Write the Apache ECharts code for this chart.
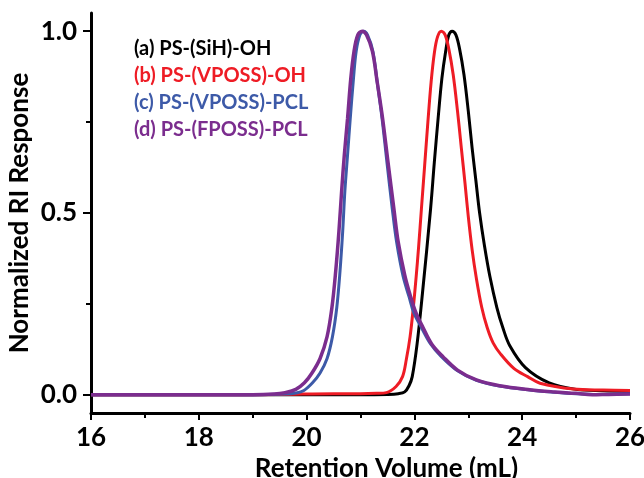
<!DOCTYPE html>
<html>
<head>
<meta charset="utf-8">
<script src="https://cdn.jsdelivr.net/npm/echarts@6/dist/echarts.min.js"></script>
<style>
  html,body{margin:0;padding:0;background:#fff;}
  #chart{width:644px;height:478px;}
</style>
</head>
<body>
<div id="chart"></div>
<script>
// GPC traces: retention volume (mL) vs normalized RI response
const seriesNames=['(a) PS-(SiH)-OH','(b) PS-(VPOSS)-OH','(c) PS-(VPOSS)-PCL','(d) PS-(FPOSS)-PCL'];
const seriesColors=['#000000','#ee1c25','#3d5aa8','#7b2d8e'];

const volA=[16,18,20,21,21.5,21.7,21.82,21.9,21.96,22.05,22.15,22.3,22.37,22.44,22.51,22.58,22.64,22.7,22.77,22.84,22.92,23,23.07,23.14,23.21,23.3,23.4,23.53,23.64,23.77,24.06,24.5,25,25.5,26];
const respA=[0,0,0,0,0.001,0.003,0.008,0.025,0.05,0.14,0.28,0.511,0.64,0.76,0.87,0.945,0.99,1,0.99,0.95,0.88,0.78,0.68,0.59,0.5,0.41,0.326,0.24,0.185,0.135,0.075,0.033,0.015,0.011,0.009];

const volB=[16,18,19.5,20.5,21,21.3,21.48,21.66,21.78,21.85,21.92,21.98,22.03,22.08,22.13,22.19,22.25,22.31,22.37,22.43,22.5,22.57,22.64,22.72,22.8,22.87,22.94,23,23.07,23.15,23.25,23.35,23.46,23.6,23.85,24.1,24.33,24.95,25.5,26];
const respB=[0,0,0.001,0.003,0.003,0.004,0.006,0.023,0.05,0.097,0.16,0.24,0.32,0.41,0.511,0.63,0.75,0.86,0.94,0.985,1,0.99,0.95,0.88,0.78,0.68,0.58,0.49,0.4,0.32,0.24,0.185,0.143,0.112,0.072,0.05,0.032,0.016,0.013,0.012];

const volC=[16,18,19,19.6,19.8,19.95,20.11,20.25,20.38,20.48,20.56,20.62,20.67,20.71,20.76,20.81,20.87,20.92,20.99,21.06,21.13,21.23,21.31,21.4,21.49,21.59,21.67,21.79,21.9,21.99,22.13,22.3,22.5,22.8,23.15,23.58,24.14,24.6,25,25.4,26];
const respC=[0,0,0,0.002,0.005,0.012,0.033,0.06,0.1,0.16,0.24,0.34,0.45,0.56,0.66,0.76,0.87,0.945,0.99,1,0.99,0.945,0.86,0.76,0.64,0.511,0.42,0.326,0.27,0.225,0.185,0.14,0.105,0.066,0.04,0.024,0.013,0.007,0.003,0.001,0.003];

const volD=[16,18,19,19.4,19.6,19.8,19.96,20.1,20.25,20.38,20.47,20.54,20.6,20.65,20.7,20.76,20.82,20.88,20.95,21.03,21.11,21.22,21.31,21.41,21.51,21.62,21.7,21.82,21.93,22.03,22.16,22.32,22.53,22.8,23.15,23.58,24.14,24.6,25,25.3,25.6,26];
const respD=[0,0,0,0.002,0.006,0.015,0.033,0.06,0.1,0.16,0.24,0.34,0.45,0.56,0.66,0.76,0.87,0.945,0.99,1,0.99,0.945,0.86,0.76,0.64,0.511,0.42,0.33,0.27,0.225,0.185,0.14,0.105,0.068,0.041,0.025,0.014,0.008,0.004,0,0.001,0.002];

const xTicks={min:16,max:26,interval:2};
const yLabelValues=[0,0.5,1];
const yMinorValues=[0.25,0.75];

const fontFamily='Lato, "Open Sans", sans-serif';
const zip=(xs,ys)=>xs.map((x,i)=>[x,ys[i]]);
const curves=[zip(volA,respA),zip(volB,respB),zip(volC,respC),zip(volD,respD)];

const myChart=echarts.init(document.getElementById('chart'),null,{renderer:'canvas'});

const option={
  animation:false,
  backgroundColor:'#fff',
  grid:{left:91,right:14,top:13,bottom:65,containLabel:false,outerBoundsMode:'none'},
  legend:{
    orient:'vertical',
    left:124,
    top:34,
    icon:'none',
    itemWidth:0,
    itemHeight:20,
    itemGap:7,
    selectedMode:false,
    textStyle:{fontFamily:fontFamily,fontWeight:'bold',fontSize:20,lineHeight:20},
    data:seriesNames.map((n,i)=>({name:n,textStyle:{color:seriesColors[i]}}))
  },
  xAxis:{
    type:'value',
    min:xTicks.min,
    max:xTicks.max,
    interval:xTicks.interval,
    name:'Retention Volume (mL)',
    nameLocation:'middle',
    nameGap:42,
    nameTextStyle:{fontFamily:fontFamily,fontWeight:'bold',fontSize:26,color:'#000',padding:[0,0,0,52]},
    axisLine:{onZero:false,lineStyle:{color:'#000',width:3}},
    axisTick:{inside:false,length:7,lineStyle:{color:'#000',width:2}},
    minorTick:{show:true,splitNumber:2,length:5,lineStyle:{color:'#000',width:2}},
    axisLabel:{margin:12,fontFamily:fontFamily,fontWeight:'bold',fontSize:26,color:'#000'},
    splitLine:{show:false}
  },
  yAxis:[
    {
      type:'value',
      min:-0.05,
      max:1.05,
      name:'Normalized RI Response',
      nameLocation:'middle',
      nameGap:58,
      nameMoveOverlap:false,
      nameTextStyle:{fontFamily:fontFamily,fontWeight:'bold',fontSize:26,color:'#000'},
      axisLine:{onZero:false,lineStyle:{color:'#000',width:3}},
      axisTick:{length:8,customValues:yLabelValues,lineStyle:{color:'#000',width:2}},
      axisLabel:{margin:14,customValues:yLabelValues,fontFamily:fontFamily,fontWeight:'bold',fontSize:26,color:'#000',
        formatter:v=>v.toFixed(1)},
      splitLine:{show:false}
    },
    {
      type:'value',
      min:-0.05,
      max:1.05,
      position:'left',
      axisLine:{show:false,onZero:false},
      axisTick:{length:5,customValues:yMinorValues,lineStyle:{color:'#000',width:2}},
      axisLabel:{show:false},
      splitLine:{show:false}
    }
  ],
  series:curves.map((d,i)=>({
    name:seriesNames[i],
    type:'line',
    data:d,
    showSymbol:false,
    smooth:0.35,
    lineStyle:{color:seriesColors[i],width:i===3?3.5:3},
    itemStyle:{color:seriesColors[i]},
    z:2+i
  }))
};

myChart.setOption(option);
</script>
</body>
</html>
